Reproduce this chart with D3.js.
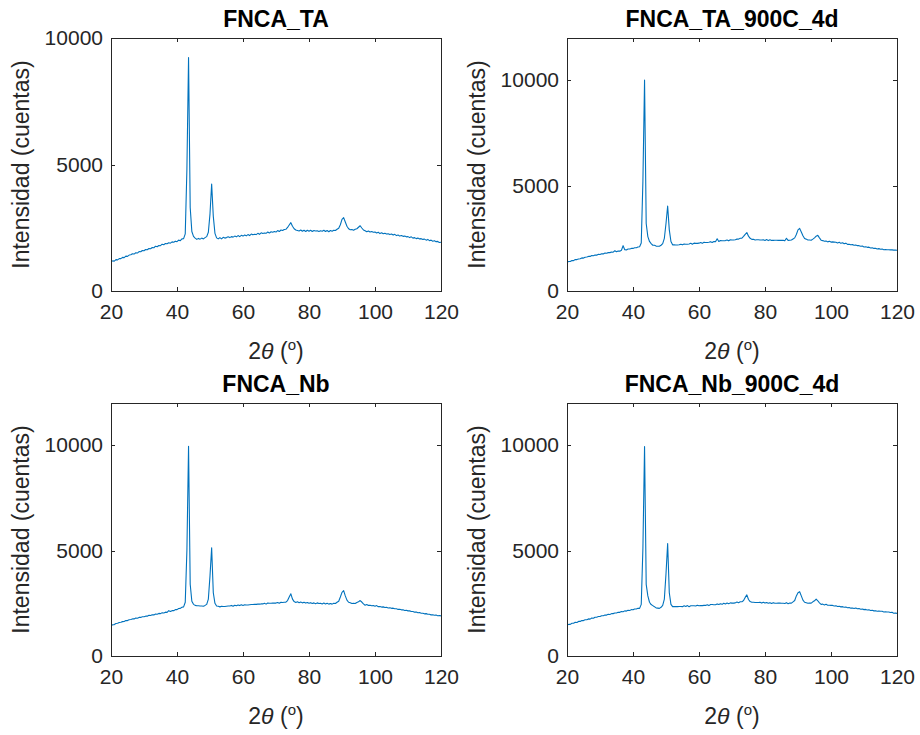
<!DOCTYPE html>
<meta charset="utf-8">
<style>
  body { margin: 0; background: #fff; }
  svg { display: block; font-family: "Liberation Sans", Arial, Helvetica, sans-serif; }
  .tick text { fill: #262626; font-size: 21px; }
  .tick line { stroke: #262626; shape-rendering: crispEdges; }
  .box { fill: none; stroke: #262626; stroke-width: 1; shape-rendering: crispEdges; }
  .title { font-size: 23px; font-weight: bold; fill: #000; }
  .label { font-size: 23px; fill: #262626; }
  .trace { fill: none; stroke: #0072bd; stroke-width: 1.1; stroke-linejoin: round; }
</style>
<body>
</body>
<script src="https://cdn.jsdelivr.net/npm/d3@7/dist/d3.min.js"></script>
<script>
  // 2theta sampling grid (deg), one value per 0.5 deg
  const twoTheta = d3.range(20, 120.25, 0.5);

  // counts, 10 values per 5 deg row
  const fncaTA = [
    1150,1190,1180,1240,1230,1280,1280,1330,1320,1380,
    1370,1420,1430,1470,1460,1510,1500,1560,1550,1600,
    1590,1640,1630,1680,1670,1720,1710,1770,1750,1800,
    1790,1850,1830,1880,1870,1910,1890,1940,1930,1970,
    1950,2010,1990,2060,2070,2260,4800,9230,3300,2350,
    2160,2090,2040,2080,2050,2090,2060,2110,2150,2320,
    3050,4230,2950,2280,2100,2060,2110,2060,2120,2090,
    2110,2140,2110,2150,2130,2170,2140,2190,2150,2200,
    2170,2210,2180,2230,2190,2250,2220,2240,2230,2280,
    2240,2300,2270,2290,2280,2330,2290,2340,2320,2350,
    2330,2390,2350,2410,2390,2430,2440,2510,2610,2700,
    2560,2460,2410,2390,2370,2410,2360,2400,2350,2400,
    2360,2400,2350,2390,2370,2380,2350,2380,2360,2400,
    2350,2390,2340,2390,2360,2400,2390,2440,2480,2620,
    2830,2900,2730,2560,2460,2420,2430,2400,2440,2460,
    2520,2580,2490,2410,2380,2340,2370,2330,2350,2320,
    2330,2290,2320,2270,2300,2260,2280,2250,2260,2230,
    2250,2210,2240,2190,2210,2170,2190,2160,2170,2140,
    2150,2110,2140,2090,2110,2070,2090,2060,2070,2040,
    2050,2010,2040,1990,2010,1970,1990,1950,1960,1920,
    1930
  ];

  const fncaTA900 = [
    1360,1400,1400,1450,1440,1490,1490,1520,1530,1570,
    1560,1600,1610,1640,1640,1680,1670,1710,1700,1740,
    1730,1770,1760,1800,1790,1820,1820,1850,1840,1910,
    1860,1900,1890,1930,2150,1960,1950,1990,1990,2020,
    2020,2050,2050,2090,2100,2280,5200,10000,3200,2580,
    2350,2250,2170,2170,2130,2120,2120,2170,2250,2500,
    3200,4030,2900,2350,2190,2190,2180,2180,2190,2220,
    2190,2230,2220,2220,2230,2260,2220,2270,2260,2260,
    2270,2300,2260,2310,2300,2300,2310,2340,2300,2350,
    2340,2480,2350,2390,2380,2380,2390,2420,2380,2430,
    2420,2420,2430,2460,2460,2500,2510,2590,2690,2770,
    2600,2500,2450,2450,2420,2430,2430,2420,2420,2430,
    2400,2440,2390,2430,2400,2400,2410,2410,2400,2400,
    2400,2410,2380,2500,2400,2410,2420,2470,2520,2680,
    2900,2970,2800,2620,2490,2460,2420,2420,2410,2460,
    2520,2600,2640,2520,2410,2390,2360,2370,2330,2360,
    2320,2330,2320,2310,2280,2310,2260,2290,2240,2270,
    2210,2220,2190,2200,2170,2180,2150,2150,2120,2130,
    2090,2100,2070,2080,2040,2050,2020,2030,1990,2010,
    1980,1990,1960,1970,1960,1960,1950,1950,1940,1940,
    1930
  ];

  const fncaNb = [
    1430,1480,1490,1540,1550,1590,1600,1630,1640,1680,
    1680,1720,1730,1760,1760,1800,1790,1830,1830,1860,
    1860,1890,1890,1930,1920,1960,1950,1990,1980,2020,
    2010,2050,2040,2080,2070,2150,2110,2150,2150,2200,
    2200,2250,2260,2310,2330,2550,5000,9950,3400,2600,
    2450,2400,2380,2380,2370,2370,2360,2400,2450,2700,
    3800,5130,3000,2500,2370,2360,2330,2360,2350,2350,
    2360,2370,2370,2400,2360,2410,2380,2420,2390,2430,
    2400,2430,2420,2420,2430,2440,2440,2450,2450,2460,
    2460,2470,2470,2500,2460,2510,2500,2500,2510,2510,
    2510,2540,2500,2550,2540,2550,2550,2630,2800,2950,
    2700,2580,2540,2570,2530,2560,2520,2550,2510,2540,
    2500,2530,2490,2520,2480,2520,2490,2500,2470,2510,
    2470,2500,2460,2490,2460,2500,2490,2550,2600,2800,
    3020,3100,2850,2650,2550,2530,2490,2500,2490,2540,
    2570,2630,2560,2470,2410,2440,2400,2410,2380,2390,
    2360,2390,2340,2350,2320,2330,2300,2310,2280,2290,
    2260,2270,2240,2240,2210,2220,2190,2190,2160,2170,
    2140,2140,2110,2110,2080,2090,2050,2060,2030,2030,
    2000,2010,1980,1980,1950,1960,1930,1940,1910,1920,
    1900
  ];

  const fncaNb900 = [
    1460,1500,1500,1550,1550,1600,1590,1640,1640,1680,
    1680,1720,1720,1760,1750,1800,1790,1840,1840,1870,
    1870,1910,1910,1940,1940,1980,1970,2010,2010,2040,
    2040,2070,2070,2110,2100,2140,2130,2170,2160,2200,
    2190,2230,2230,2260,2260,2450,5100,9940,3400,2850,
    2550,2440,2390,2340,2280,2270,2260,2310,2400,2700,
    3900,5330,3000,2450,2340,2350,2340,2340,2350,2350,
    2340,2380,2350,2390,2340,2380,2380,2380,2370,2410,
    2380,2390,2390,2400,2400,2430,2390,2440,2440,2430,
    2430,2470,2440,2480,2450,2500,2470,2510,2480,2520,
    2510,2510,2520,2560,2530,2570,2570,2630,2780,2900,
    2680,2580,2550,2550,2540,2540,2540,2550,2510,2550,
    2510,2540,2500,2530,2490,2530,2500,2500,2510,2510,
    2500,2500,2490,2530,2480,2510,2510,2570,2630,2850,
    3000,3050,2850,2650,2550,2530,2500,2510,2510,2570,
    2620,2700,2620,2520,2450,2460,2420,2450,2410,2410,
    2400,2400,2370,2380,2350,2360,2330,2340,2310,2320,
    2290,2300,2270,2280,2250,2280,2240,2250,2220,2230,
    2200,2210,2180,2190,2160,2170,2140,2150,2120,2130,
    2120,2120,2090,2100,2090,2090,2060,2070,2030,2040,
    2020
  ];

  const titles = ['FNCA_TA', 'FNCA_TA_900C_4d', 'FNCA_Nb', 'FNCA_Nb_900C_4d'];
  const series = [fncaTA, fncaTA900, fncaNb, fncaNb900];
  const yMax = [10000, 12000, 12000, 12000];
  const yTicks = [0, 5000, 10000];
  const xTicks = [20, 40, 60, 80, 100, 120];
  const xRange = [20, 120];

  const W = 920, H = 735;
  const lefts = [111, 567], tops = [38, 403];
  const pw = 330, ph = 253;
  const tk = 4;

  const svg = d3.select('body').append('svg')
    .attr('width', W).attr('height', H);

  titles.forEach((title, i) => {
    const ox = lefts[i % 2], oy = tops[Math.floor(i / 2)];
    const g = svg.append('g').attr('transform', `translate(${ox},${oy})`);

    const x = d3.scaleLinear().domain(xRange).range([0, pw]);
    const y = d3.scaleLinear().domain([0, yMax[i]]).range([ph, 0]);

    // inward ticks on all four sides, MATLAB box style
    g.append('g').attr('transform', `translate(0,${ph})`)
      .call(d3.axisBottom(x).tickValues(xTicks).tickFormat(d3.format('d'))
        .tickSize(-tk).tickPadding(13).tickSizeOuter(0));
    g.append('g')
      .call(d3.axisTop(x).tickValues(xTicks).tickSize(-tk).tickFormat('').tickSizeOuter(0));
    g.append('g')
      .call(d3.axisLeft(y).tickValues(yTicks).tickFormat(d3.format('d'))
        .tickSize(-tk).tickPadding(8).tickSizeOuter(0));
    g.append('g').attr('transform', `translate(${pw},0)`)
      .call(d3.axisRight(y).tickValues(yTicks).tickSize(-tk).tickFormat('').tickSizeOuter(0));
    g.selectAll('.domain').remove();
    g.selectAll('.tick text').attr('font-family', null).attr('font-size', null);

    g.append('clipPath').attr('id', `clip${i}`)
      .append('rect').attr('width', pw).attr('height', ph);

    const line = d3.line()
      .x((d, j) => x(twoTheta[j]))
      .y(d => y(d));

    g.append('path')
      .datum(series[i])
      .attr('class', 'trace')
      .attr('clip-path', `url(#clip${i})`)
      .attr('d', line);

    g.append('rect').attr('class', 'box')
      .attr('x', 0.5).attr('y', 0.5).attr('width', pw).attr('height', ph);

    g.append('text').attr('class', 'title')
      .attr('x', pw / 2).attr('y', -11)
      .attr('text-anchor', 'middle')
      .text(title);

    const xl = g.append('text').attr('class', 'label')
      .attr('x', pw / 2).attr('y', ph + 68)
      .attr('text-anchor', 'middle');
    xl.append('tspan').text('2');
    xl.append('tspan').attr('font-style', 'italic').text('θ');
    xl.append('tspan').text(' (');
    xl.append('tspan').attr('font-size', 15).attr('dy', -9).text('o');
    xl.append('tspan').attr('dy', 9).text(')');

    g.append('text').attr('class', 'label')
      .attr('transform', `translate(-82,${ph / 2}) rotate(-90)`)
      .attr('text-anchor', 'middle')
      .text('Intensidad (cuentas)');
  });
</script>
